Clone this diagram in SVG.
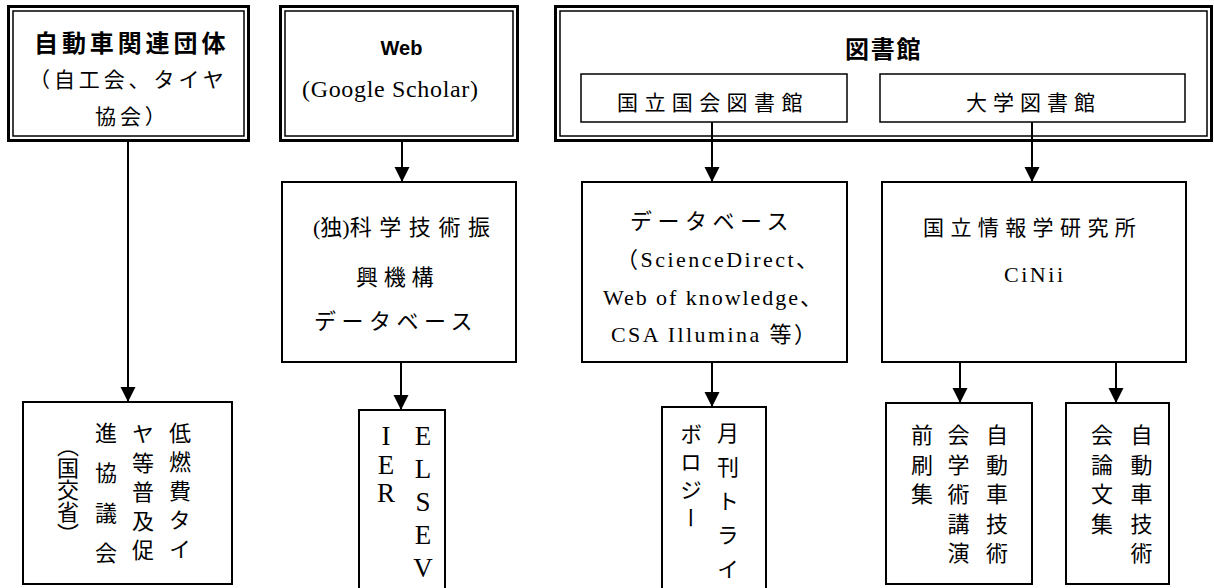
<svg xmlns="http://www.w3.org/2000/svg" width="1214" height="588" viewBox="0 0 1214 588">
<style>
  .thick{fill:none;stroke:#000;stroke-width:3}
  .thin{fill:none;stroke:#000;stroke-width:1.5}
  .box{fill:#fff;stroke:#000;stroke-width:2}
  .ibox{fill:#fff;stroke:#000;stroke-width:1.5}
  .t{font-family:"Liberation Serif","Noto Sans CJK JP",serif;font-size:21px;fill:#000}
  .j{font-family:"Noto Sans CJK JP",sans-serif;font-size:21px;fill:#000;letter-spacing:6.4px}
  .h{font-family:"Noto Sans CJK JP",sans-serif;font-size:24px;font-weight:bold;fill:#000}
  .w{font-family:"Liberation Sans",Arial,sans-serif;font-size:20px;font-weight:bold;fill:#000;text-anchor:middle}
  .v{font-family:"Noto Sans CJK JP",sans-serif;font-size:22px;fill:#000;writing-mode:vertical-rl;letter-spacing:7px}
  .e{font-family:"Liberation Serif",serif;font-size:27px;fill:#000;text-anchor:middle}
  #connectors line{stroke:#000;stroke-width:2;marker-end:url(#ah)}
</style>
<defs>
  <marker id="ah" markerUnits="userSpaceOnUse" markerWidth="16" markerHeight="16" refX="15" refY="7.5" orient="auto" viewBox="0 0 16 16">
    <path d="M0,0 L15,7.5 L0,15 z" fill="#000"/>
  </marker>
</defs>
<rect width="1214" height="588" fill="#fff"/>

<g id="connectors">
  <line x1="128" y1="140.5" x2="128" y2="402"/>
  <line x1="402" y1="140.5" x2="402" y2="182"/>
  <line x1="401" y1="362" x2="401" y2="410"/>
  <line x1="712" y1="122" x2="712" y2="182"/>
  <line x1="1032" y1="122" x2="1032" y2="182"/>
  <line x1="712" y1="362" x2="712" y2="407"/>
  <line x1="960" y1="362" x2="960" y2="403"/>
  <line x1="1116" y1="362" x2="1116" y2="403"/>
</g>

<g id="n-jidosha">
  <rect class="thick" x="8.5" y="6.5" width="240" height="134"/>
  <rect class="thin" x="13" y="11" width="231" height="125"/>
  <text class="h" x="34" y="52" style="letter-spacing:3.9px">自動車関連団体</text>
  <text class="t" x="29" y="86.5" style="letter-spacing:3.9px">（自工会、タイヤ</text>
  <text class="t" x="95" y="123.5" style="letter-spacing:3.9px">協会）</text>
</g>

<g id="n-web">
  <rect class="thick" x="280.5" y="6.5" width="237" height="134"/>
  <rect class="thin" x="285" y="11" width="228" height="125"/>
  <text class="w" x="401.5" y="55">Web</text>
  <text class="t" x="302" y="96.5" style="font-size:24px" textLength="176" lengthAdjust="spacing">(Google Scholar)</text>
</g>

<g id="n-library">
  <rect class="thick" x="555.5" y="6.5" width="656" height="134"/>
  <rect class="thin" x="560" y="11" width="647" height="125"/>
  <text class="h" x="845" y="57.5" style="letter-spacing:1.7px">図書館</text>
</g>

<g id="n-ndl">
  <rect class="ibox" x="581" y="74" width="266" height="48"/>
  <text class="j" x="617" y="110">国立国会図書館</text>
</g>

<g id="n-univ">
  <rect class="ibox" x="880" y="74" width="305" height="48"/>
  <text class="j" x="966" y="110" style="letter-spacing:6px">大学図書館</text>
</g>

<g id="n-jst">
  <rect class="box" x="282" y="182" width="234" height="180"/>
  <text class="t" x="313" y="235" style="font-size:22px">(独)<tspan style="letter-spacing:7.6px">科学技術振</tspan></text>
  <text class="j" x="356" y="285" style="font-size:22px;letter-spacing:5.7px">興機構</text>
  <text class="j" x="314" y="329" style="font-size:22px;letter-spacing:5.5px">データベース</text>
</g>

<g id="n-db">
  <rect class="box" x="582" y="182" width="265" height="180"/>
  <text class="j" x="630" y="229" style="font-size:22px;letter-spacing:5.5px">データベース</text>
  <text class="t" x="616" y="267" style="font-size:22px" textLength="202" lengthAdjust="spacing">（ScienceDirect、</text>
  <text class="t" x="603" y="305" style="font-size:22px" textLength="219" lengthAdjust="spacing">Web of knowledge、</text>
  <text class="t" x="611" y="341.5" style="font-size:22px" textLength="205" lengthAdjust="spacing">CSA Illumina 等）</text>
</g>

<g id="n-nii">
  <rect class="box" x="882" y="182" width="304" height="180"/>
  <text class="j" x="923" y="234.5">国立情報学研究所</text>
  <text class="t" x="1004" y="282" style="font-size:22px" textLength="59" lengthAdjust="spacing">CiNii</text>
</g>

<g id="n-tire">
  <rect class="box" x="23" y="402" width="209" height="182"/>
  <text class="v" x="180" y="422">低燃費タイ</text>
  <text class="v" x="143" y="423">ヤ等普及促</text>
  <text class="v" x="106" y="422" style="letter-spacing:18px">進協議会</text>
  <text class="v" x="68" y="435" style="letter-spacing:0">（国交省）</text>
</g>

<g id="n-elsevier">
  <rect class="box" x="359" y="410" width="86" height="200"/>
  <text class="e" x="423 423 423 423 423 386 386 386" y="445 478 511 544 577 445 473.5 502">ELSEVIER</text>
</g>

<g id="n-tribology">
  <rect class="box" x="662" y="407" width="104" height="200"/>
  <text class="v" x="728" y="422 456 490 524 558" style="letter-spacing:0">月刊トライ</text>
  <text class="v" x="691" y="423" style="letter-spacing:6px">ボロジー</text>
</g>

<g id="n-jsae-proc">
  <rect class="box" x="886" y="403" width="146" height="181"/>
  <text class="v" x="997" y="424" style="letter-spacing:7.4px">自動車技術</text>
  <text class="v" x="958.5" y="424" style="letter-spacing:7.4px">会学術講演</text>
  <text class="v" x="922" y="424" style="letter-spacing:7.4px">前刷集</text>
</g>

<g id="n-jsae-trans">
  <rect class="box" x="1066" y="403" width="103" height="181"/>
  <text class="v" x="1141.5" y="424" style="letter-spacing:7.4px">自動車技術</text>
  <text class="v" x="1102" y="424" style="letter-spacing:7.4px">会論文集</text>
</g>
</svg>
